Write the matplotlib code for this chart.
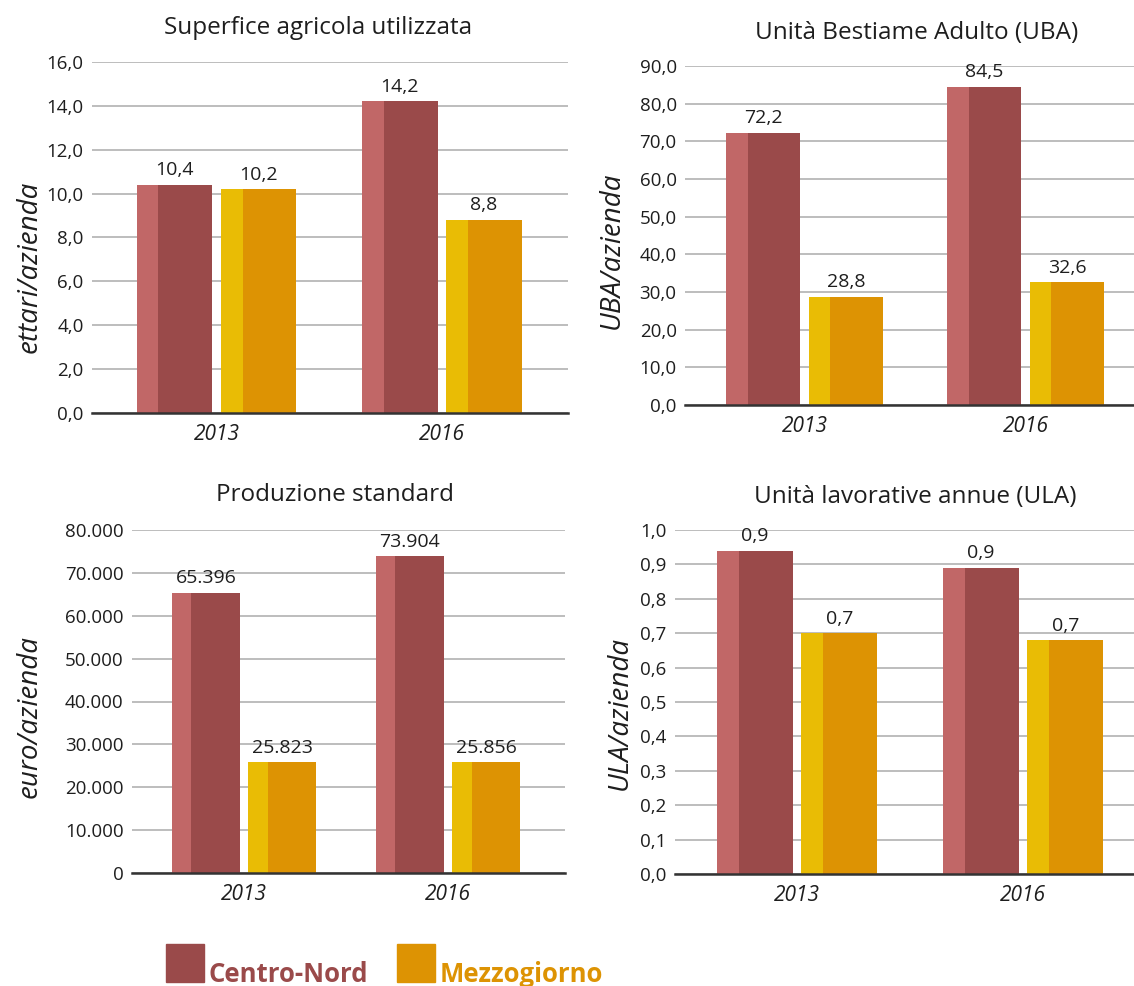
import matplotlib
matplotlib.use("Agg")
import matplotlib.pyplot as plt
from matplotlib.patches import Rectangle

plt.rcParams["font.family"] = ["Open Sans", "DejaVu Sans"]

years = ["2013", "2016"]
series_names = ["Centro-Nord", "Mezzogiorno"]

# Superficie agricola utilizzata (ettari/azienda)
sau_cn = [10.4, 14.2]
sau_mz = [10.2, 8.8]
# Unità Bestiame Adulto (UBA/azienda)
uba_cn = [72.2, 84.5]
uba_mz = [28.8, 32.6]
# Produzione standard (euro/azienda)
ps_cn = [65396, 73904]
ps_mz = [25823, 25856]
# Unità lavorative annue (ULA/azienda)
ula_cn = [0.94, 0.89]
ula_mz = [0.70, 0.68]

titles = ["Superfice agricola utilizzata", "Unità Bestiame Adulto (UBA)",
          "Produzione standard", "Unità lavorative annue (ULA)"]
ylabels = ["ettari/azienda", "UBA/azienda", "euro/azienda", "ULA/azienda"]

CN_DARK, CN_LIGHT = "#9A4A4A", "#C16767"
MZ_DARK, MZ_LIGHT = "#DD9303", "#E9BC05"
GRID = "#BDBDBD"
TXT = "#1E1E1E"


def fmt_dec(v):
    return f"{v:.1f}".replace(".", ",")


def fmt_thousands(v):
    return f"{int(round(v)):,}".replace(",", ".")


W, H = 1134, 986
fig = plt.figure(figsize=(W / 100, H / 100), dpi=100)


def px_axes(x0, x1, ytop, ybot):
    return fig.add_axes([x0 / W, 1 - ybot / H, (x1 - x0) / W, (ybot - ytop) / H])


def panel(ax, cn, mz, ymax, step, fmt, tickfmt, xlim, title, title_xy, ylabel, ylabel_xy):
    width = 0.335
    off = 0.187
    strip = 0.29 * width
    xs = list(range(len(years)))
    for vals, dark, light, sign in ((cn, CN_DARK, CN_LIGHT, -1), (mz, MZ_DARK, MZ_LIGHT, 1)):
        centers = [x + sign * off for x in xs]
        ax.bar(centers, vals, width=width, color=dark, zorder=3)
        ax.bar([c - width / 2 for c in centers], vals, width=strip, align="edge",
               color=light, zorder=4)
        for c, v in zip(centers, vals):
            ax.annotate(fmt(v), (c, v), xytext=(0, 4), textcoords="offset points",
                        ha="center", va="bottom", fontsize=14, color=TXT, zorder=5)
    ax.set_ylim(0, ymax)
    ax.set_xlim(*xlim)
    ticks = [i * step for i in range(int(round(ymax / step)) + 1)]
    ax.set_yticks(ticks)
    ax.set_yticklabels([tickfmt(t) for t in ticks], fontsize=13.5, color=TXT)
    ax.set_xticks(xs)
    ax.set_xticklabels(years, fontsize=15, style="italic", color=TXT)
    ax.tick_params(axis="both", length=0, pad=6)
    ax.tick_params(axis="x", pad=8)
    ax.grid(axis="y", color=GRID, linewidth=1.4, zorder=0)
    ax.set_axisbelow(True)
    for s in ("top", "right", "left"):
        ax.spines[s].set_visible(False)
    ax.spines["bottom"].set_color("#333333")
    ax.spines["bottom"].set_linewidth(1.8)
    ax.spines["bottom"].set_zorder(6)
    fig.text(title_xy[0] / W, 1 - title_xy[1] / H, title, ha="center", va="center",
             fontsize=17.5, color=TXT)
    fig.text(ylabel_xy[0] / W, 1 - ylabel_xy[1] / H, ylabel, rotation=90,
             ha="center", va="center", fontsize=20, style="italic", color=TXT)


ax1 = px_axes(92, 568, 62, 413)
panel(ax1, sau_cn, sau_mz, 16, 2, fmt_dec, fmt_dec, (-0.552, 1.559),
      titles[0], (318, 28), ylabels[0], (30, 267))

ax2 = px_axes(685, 1145, 66, 405)
panel(ax2, uba_cn, uba_mz, 90, 10, fmt_dec, fmt_dec, (-0.54, 1.54),
      titles[1], (917, 33), ylabels[1], (612, 250))

ax3 = px_axes(132, 565, 530, 873)
panel(ax3, ps_cn, ps_mz, 80000, 10000, fmt_thousands, fmt_thousands, (-0.549, 1.574),
      titles[2], (335, 495), ylabels[2], (30, 717))

ax4 = px_axes(675, 1145, 530, 874)
panel(ax4, ula_cn, ula_mz, 1.0, 0.1, fmt_dec, fmt_dec, (-0.54, 1.54),
      titles[3], (915, 497), ylabels[3], (620, 713))

# legend
for name, color, x_box, x_txt in ((series_names[0], CN_DARK, 166, 209),
                                  (series_names[1], MZ_DARK, 397, 440)):
    fig.patches.append(Rectangle((x_box / W, 1 - 982 / H), 38 / W, 38 / H,
                                 transform=fig.transFigure, color=color))
    fig.text(x_txt / W, 1 - 982 / H, name, ha="left", va="baseline",
             fontsize=18.5, fontweight="bold", color=color)

fig.savefig("out.png", dpi=100)
